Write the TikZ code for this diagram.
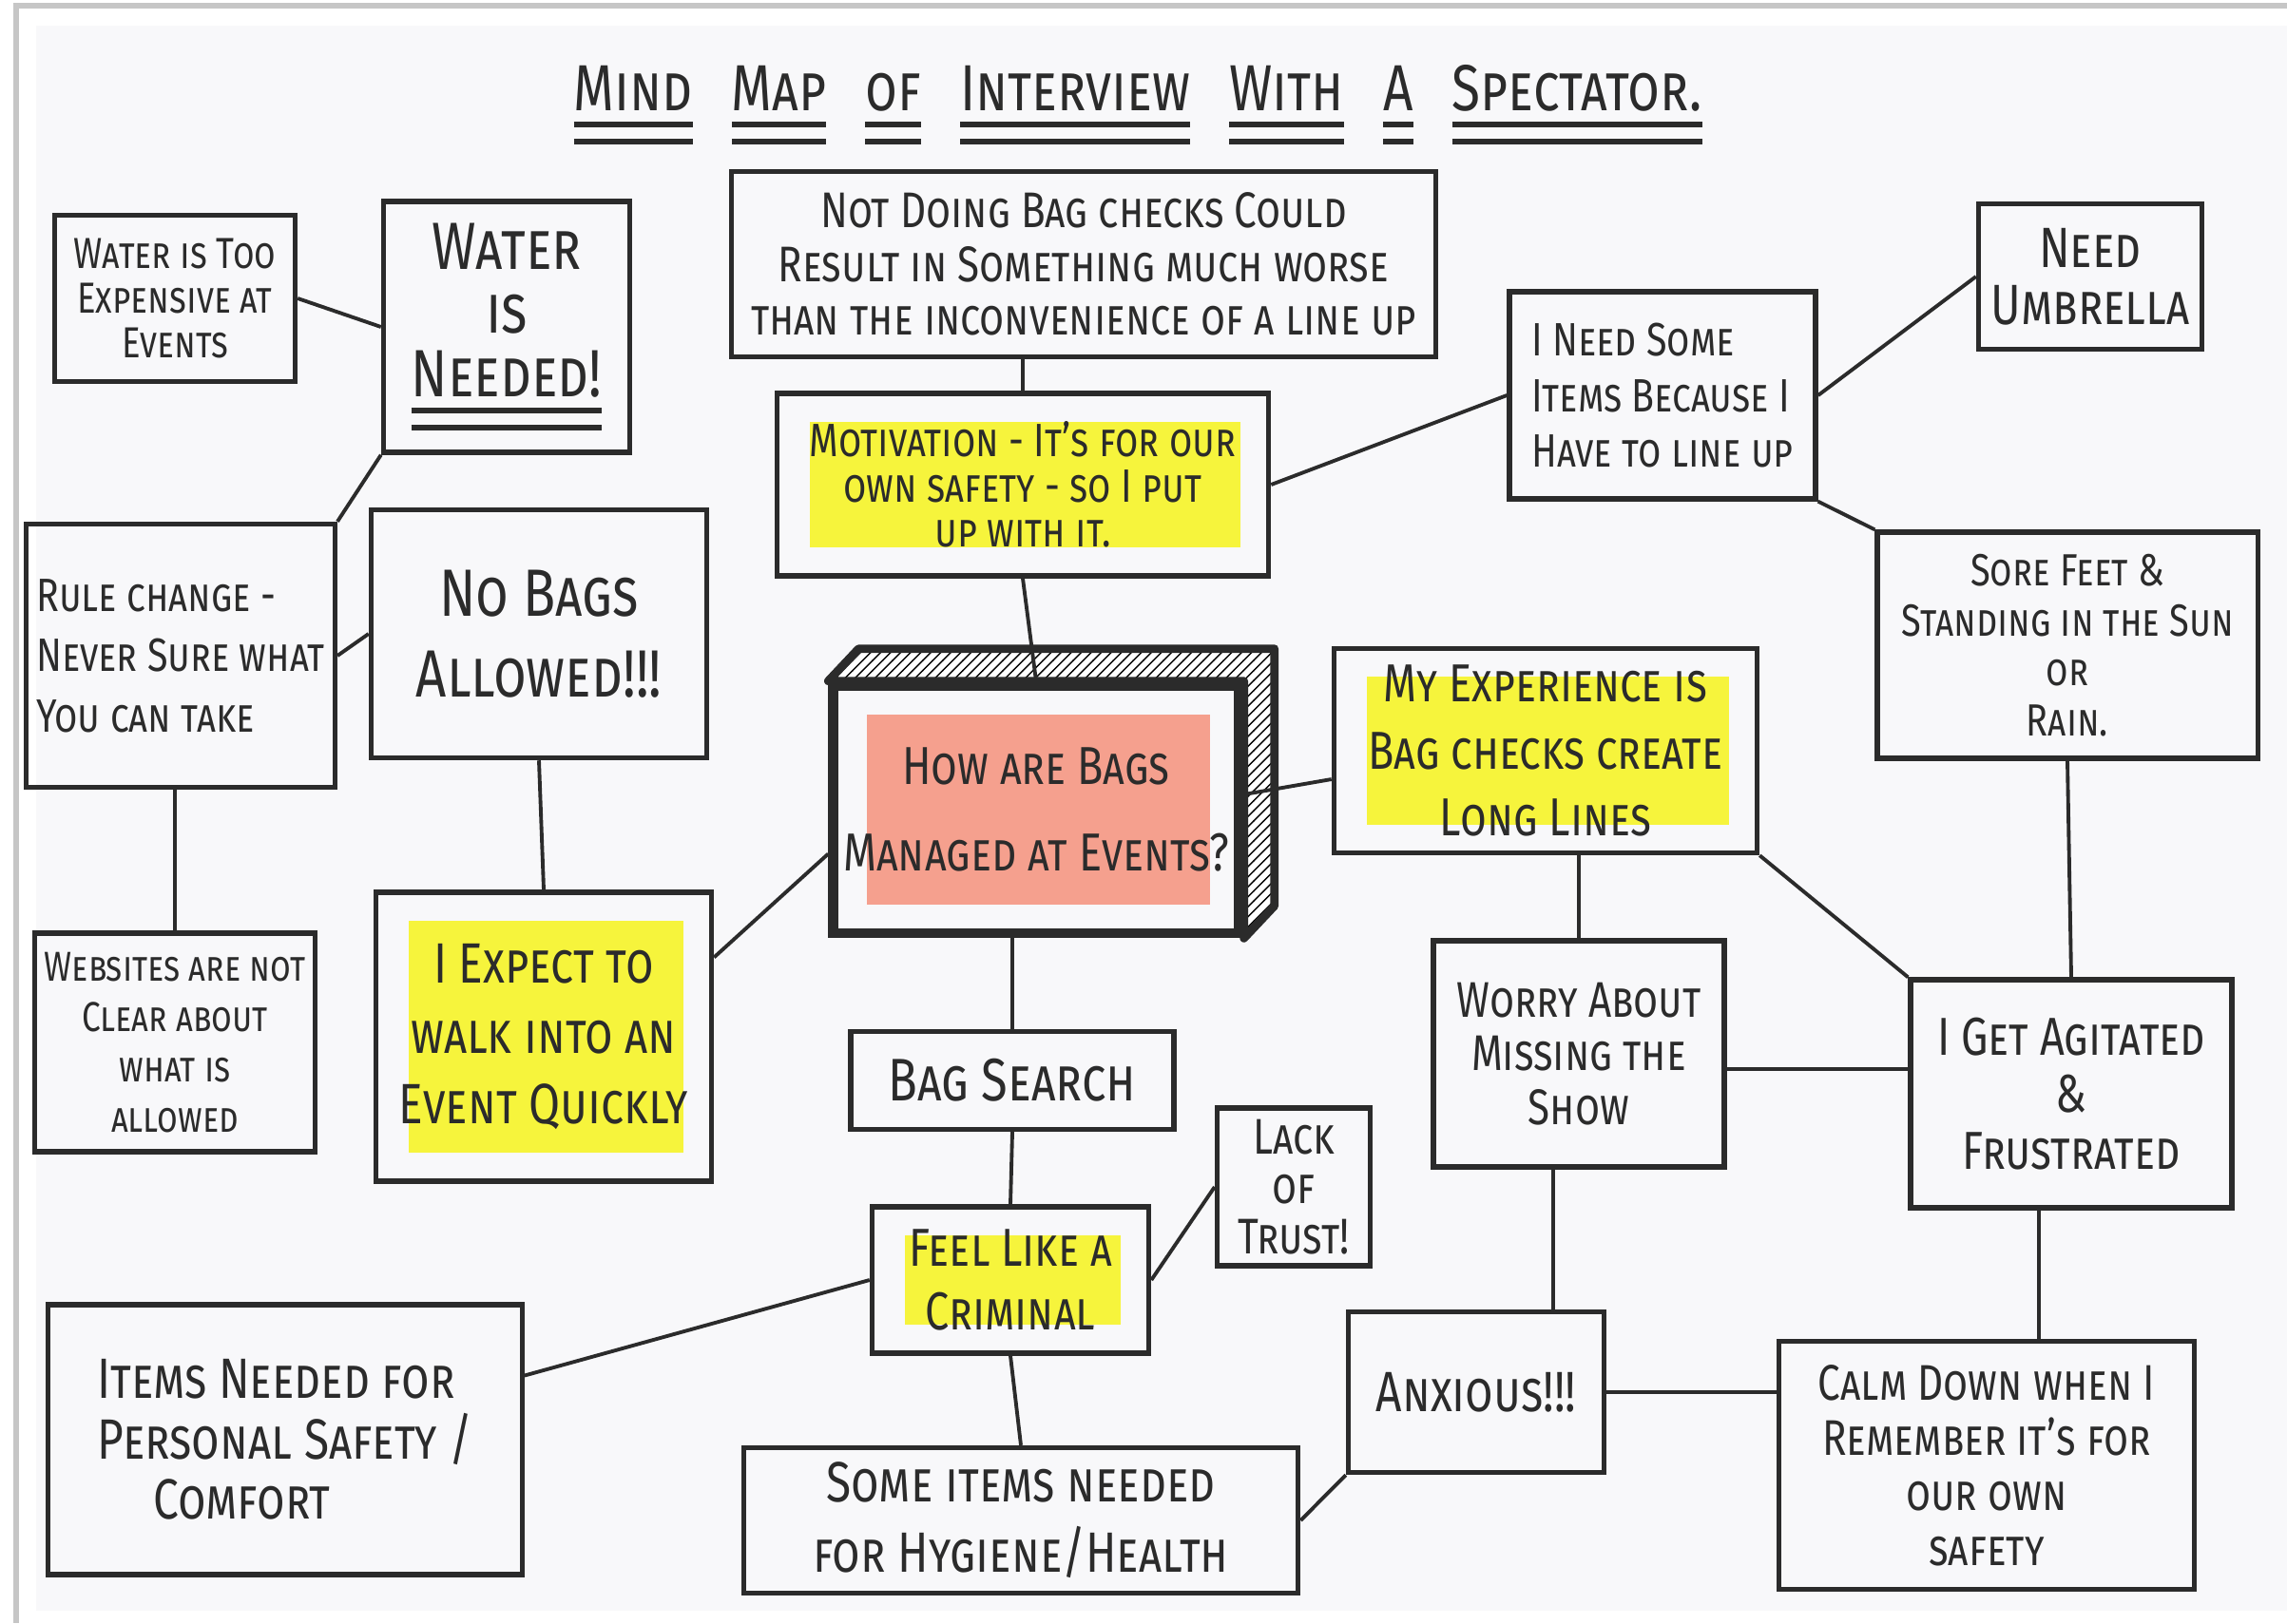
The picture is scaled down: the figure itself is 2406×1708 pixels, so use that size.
\documentclass[tikz,border=0pt]{standalone}
\usepackage{fontspec}
\setmainfont{Fira Sans}[FakeStretch=0.8]
\usetikzlibrary{positioning,calc,patterns}
\definecolor{mInk}{HTML}{2B2B2B}
\definecolor{mYellow}{HTML}{F6F43C}
\definecolor{mSalmon}{HTML}{F5A08E}
\definecolor{mPage}{HTML}{F8F8FA}
\newcommand{\hw}[2]{\fontsize{#1}{#2}\selectfont\scshape}
% double underline under one word
\newcommand{\dul}[1]{\leavevmode\setbox0=\hbox{#1}%
  \rlap{\rule[-5pt]{\wd0}{1.6pt}}\rlap{\rule[-10pt]{\wd0}{1.6pt}}\box0\relax}
\newcommand{\wgap}{\hspace{0.6em}}
\tikzset{
  box/.style={draw=mInk, line width=1.5pt, align=center, inner sep=3pt,
              text=mInk, minimum width=#1},
  box/.default=2cm,
  hl/.style={path picture={\fill[#1]
      ($(path picture bounding box.south west)+(0.35cm,0.3cm)$) rectangle
      ($(path picture bounding box.north east)+(-0.3cm,-0.3cm)$);}},
  hl/.default=mYellow,
  hubside/.style={draw=mInk, line width=2.5pt, line join=round,
                  preaction={fill=white}, pattern=north east lines},
  link/.style={draw=mInk, line width=1.1pt},
}

\begin{document}
\begin{tikzpicture}[x=0.01cm, y=-0.01cm]
    % page
    \useasboundingbox (0,0) rectangle (2406,1708);
    \fill[white] (0,0) rectangle (2406,1708);
    \fill[mPage] (38,27) rectangle (2406,1695);
    \draw[gray!45, line width=1.5pt] (2406,6) -- (17,6) -- (17,1708);

    \node[text=mInk, font=\hw{19.5}{19.5}] (title) at (1197,110)
      {\dul{Mind}\wgap\dul{Map}\wgap\dul{of}\wgap\dul{Interview}\wgap
       \dul{With}\wgap\dul{A}\wgap\dul{Spectator.}};

    % left column
    \node[box=2.53cm, minimum height=1.75cm, font=\hw{13}{13.5}] (wexp) at (184,314)
      {Water is Too\\Expensive at\\Events};
    \node[box=2.59cm, minimum height=2.64cm, font=\hw{20}{19}] (wneed) at (533,344)
      {Water\\is\\\dul{Needed!}};
    \node[box=2.95cm, minimum height=2.77cm, font=\hw{14}{18}, align=left] (rule) at (190,690)
      {Rule change -\\Never Sure what\\You can take};
    \node[box=3.53cm, minimum height=2.61cm, font=\hw{20}{24}] (nobags) at (567,667)
      {No Bags\\Allowed!!!};
    \node[box=2.82cm, minimum height=2.30cm, font=\hw{12.5}{15}] (web) at (184,1097)
      {Websites are not\\Clear about\\what is\\allowed};
    \node[box=3.53cm, minimum height=3.04cm, hl, font=\hw{17}{21}] (expect) at (572,1091)
      {I Expect to\\walk into an\\Event Quickly};
    \node[box=4.98cm, minimum height=2.84cm, font=\hw{17}{18}, align=left] (items) at (300,1515)
      {Items Needed for\\Personal Safety /\\\quad Comfort};

    % middle column
    \node[box=7.41cm, minimum height=1.95cm, font=\hw{15}{16}] (notdo) at (1140,278)
      {Not Doing Bag checks Could\\Result in Something much worse\\than the inconvenience of a line up};
    \node[box=5.17cm, minimum height=1.92cm, hl, font=\hw{14}{13.5}] (motiv) at (1076,510)
      {Motivation - It's for our\\own safety - so I put\\up with it.};
    \node[box=3.85cm, minimum height=2.60cm, line width=3pt, hl=mSalmon,
          font=\hw{16}{26}] (hub) at (1090,852)
      {How are Bags\\Managed at Events?};
    \node[box=3.40cm, minimum height=1.03cm, font=\hw{18}{18}] (search) at (1065,1137)
      {Bag Search};
    \node[box=2.91cm, minimum height=1.54cm, hl, font=\hw{16}{19}] (crim) at (1063,1347)
      {Feel Like a\\Criminal};
    \node[box=1.61cm, minimum height=1.66cm, font=\hw{15}{15}] (trust) at (1361,1249)
      {Lack\\of\\Trust!};
    \node[box=5.83cm, minimum height=1.53cm, font=\hw{17}{21}] (hyg) at (1074,1600)
      {Some items needed\\for Hygiene/Health};

    % right side
    \node[box=3.22cm, minimum height=2.18cm, font=\hw{14}{16.5}, align=left] (ineed) at (1749,416)
      {I Need Some\\Items Because I\\Have to line up};
    \node[box=2.35cm, minimum height=1.53cm, font=\hw{17}{17}] (umb) at (2199,291)
      {Need\\Umbrella};
    \node[box=4.00cm, minimum height=2.38cm, font=\hw{13.5}{15}] (sore) at (2175,679)
      {Sore Feet \&\\Standing in the Sun\\or\\Rain.};
    \node[box=4.45cm, minimum height=2.15cm, hl, font=\hw{16}{20}] (exper) at (1626,790)
      {My Experience is\\Bag checks create\\Long Lines};
    \node[box=3.06cm, minimum height=2.38cm, font=\hw{15}{16}] (worry) at (1661,1109)
      {Worry About\\Missing the\\Show};
    \node[box=3.38cm, minimum height=2.40cm, font=\hw{16}{17}] (agit) at (2179,1151)
      {I Get Agitated\\\&\\Frustrated};
    \node[box=2.69cm, minimum height=1.69cm, font=\hw{17}{17}] (anx) at (1553,1465)
      {Anxious!!!};
    \node[box=4.37cm, minimum height=2.61cm, font=\hw{15}{16.5}] (calm) at (2090,1542)
      {Calm Down when I\\Remember it's for\\our own\\safety};

    % hatched top and side of the centre box
    \draw[hubside] (hub.north west) -- ++(32,-34) -- ($(hub.north east)+(32,-34)$)
      -- ($(hub.south east)+(32,-34)$) -- (hub.south east) -- (hub.north east) -- cycle;

    % links
    \draw[link] (wexp.east) -- (wneed.west);
    \draw[link] (wneed.south west) -- (rule.north east);
    \draw[link] (rule.east) -- (nobags.west);
    \draw[link] (web.north |- rule.south) -- (web.north);
    \draw[link] (nobags.south) -- (expect.north);
    \draw[link] (expect.25) -- (hub.192);
    \draw[link] (motiv.north |- notdo.south) -- (motiv.north);
    \draw[link] (motiv.south) -- (hub.north);
    \draw[link] ([yshift=0.16cm]hub.east) -- ([yshift=-0.3cm]exper.west);
    \draw[link] (search.north |- hub.south) -- (search.north);
    \draw[link] (search.south) -- (crim.north);
    \draw[link] (crim.south) -- (hyg.north);
    \draw[link] (crim.east) -- (trust.west);
    \draw[link] (crim.west) -- (items.15);
    \draw[link] (motiv.east) -- (ineed.west);
    \draw[link] (ineed.east) -- (umb.west);
    \draw[link] (ineed.south east) -- (sore.north west);
    \draw[link] (worry.north |- exper.south) -- (worry.north);
    \draw[link] (exper.south east) -- (agit.north west);
    \draw[link] (sore.south) -- (agit.north);
    \draw[link] ([yshift=-0.16cm]worry.east) -- ([yshift=-0.16cm]worry.east -| agit.west);
    \draw[link] ([xshift=-0.27cm]worry.south) -- ([xshift=-0.27cm]worry.south |- anx.north);
    \draw[link] ([xshift=-0.34cm]agit.south) -- ([xshift=-0.34cm]agit.south |- calm.north);
    \draw[link] (anx.east) -- (anx.east -| calm.west);
    \draw[link] (anx.south west) -- (hyg.east);
\end{tikzpicture}
\end{document}
